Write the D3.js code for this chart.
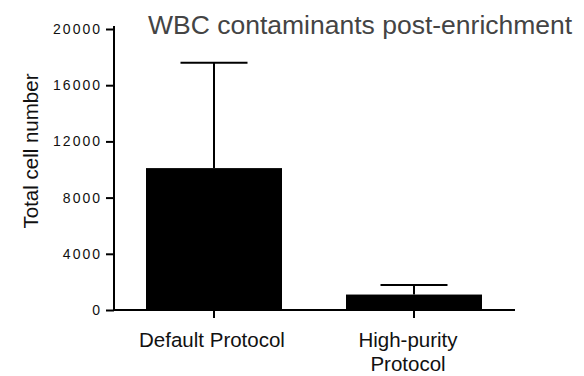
<!DOCTYPE html>
<html>
<head>
<meta charset="utf-8">
<script src="https://cdn.jsdelivr.net/npm/d3@7"></script>
<style>
  body { margin: 0; background: #fff; }
  svg { display: block; }
  svg text { font-family: "Liberation Sans", Arial, Helvetica, sans-serif; }
</style>
</head>
<body>
<div id="chart"></div>
<script>
// --- data ---
const categories = ['Default Protocol', 'High-purity Protocol'];
const catLines = [['Default Protocol'], ['High-purity', 'Protocol']];
const means = [10100, 1100];
const errors = [7500, 680];
const yTicks = [0, 4000, 8000, 12000, 16000, 20000];

const W = 584, H = 376;
const svg = d3.select('#chart').append('svg')
  .attr('width', W)
  .attr('height', H);

const x = d3.scaleBand()
  .domain(categories)
  .range([114, 514])
  .paddingInner(0.32)
  .paddingOuter(0.16);

const y = d3.scaleLinear()
  .domain([0, 20000])
  .range([310, 29]);

// bars
svg.selectAll('.bar')
  .data(categories)
  .enter().append('rect')
  .attr('class', 'bar')
  .attr('x', d => x(d))
  .attr('width', x.bandwidth())
  .attr('y', (d, i) => y(means[i]))
  .attr('height', (d, i) => y(0) - y(means[i]))
  .attr('fill', '#000');

// error bars (upper only)
const capHalf = 33.5;
const err = svg.selectAll('.err')
  .data(categories)
  .enter().append('g')
  .attr('class', 'err')
  .attr('stroke', '#000')
  .attr('stroke-width', 2);
err.append('line')
  .attr('x1', d => x(d) + x.bandwidth() / 2)
  .attr('x2', d => x(d) + x.bandwidth() / 2)
  .attr('y1', (d, i) => y(means[i]))
  .attr('y2', (d, i) => y(means[i] + errors[i]));
err.append('line')
  .attr('x1', d => x(d) + x.bandwidth() / 2 - capHalf)
  .attr('x2', d => x(d) + x.bandwidth() / 2 + capHalf)
  .attr('y1', (d, i) => y(means[i] + errors[i]))
  .attr('y2', (d, i) => y(means[i] + errors[i]));

// y axis
const yAxis = svg.append('g')
  .attr('transform', 'translate(114,0)')
  .call(d3.axisLeft(y).tickValues(yTicks).tickFormat(d3.format('d'))
    .tickSize(8).tickPadding(4).tickSizeOuter(0));
yAxis.select('.domain').attr('stroke-width', 2).attr('d', `M0,${y(20000) - 3}V${y(0) + 1}`);
yAxis.selectAll('.tick line').attr('stroke-width', 2);
yAxis.selectAll('.tick text')
  .attr('font-size', 14)
  .attr('letter-spacing', '2px')
  .attr('fill', '#111');

// x axis
const xAxis = svg.append('g')
  .attr('transform', `translate(0,${y(0)})`)
  .call(d3.axisBottom(x).tickSize(8).tickSizeOuter(0).tickFormat(''));
xAxis.select('.domain').attr('stroke-width', 2).attr('d', `M113,0H515`);
xAxis.selectAll('.tick line').attr('stroke-width', 2);

// category labels
svg.selectAll('.xlabel')
  .data(categories)
  .enter().append('text')
  .attr('class', 'xlabel')
  .attr('text-anchor', 'middle')
  .attr('font-size', 20.5)
  .attr('fill', '#111')
  .each(function (d, i) {
    const t = d3.select(this);
    catLines[i].forEach((line, j) => {
      t.append('tspan')
        .attr('x', x(d) + x.bandwidth() / 2 - (i === 0 ? 2 : 6))
        .attr('y', 347 + j * 24)
        .text(line);
    });
  });

// y axis title
svg.append('text')
  .attr('transform', 'translate(38,151) rotate(-90)')
  .attr('text-anchor', 'middle')
  .attr('font-size', 20.5)
  .attr('fill', '#111')
  .text('Total cell number');

// chart title
svg.append('text')
  .attr('x', 148)
  .attr('y', 33.5)
  .attr('font-size', 26.5)
  .attr('fill', '#444')
  .text('WBC contaminants post-enrichment');
</script>
</body>
</html>
